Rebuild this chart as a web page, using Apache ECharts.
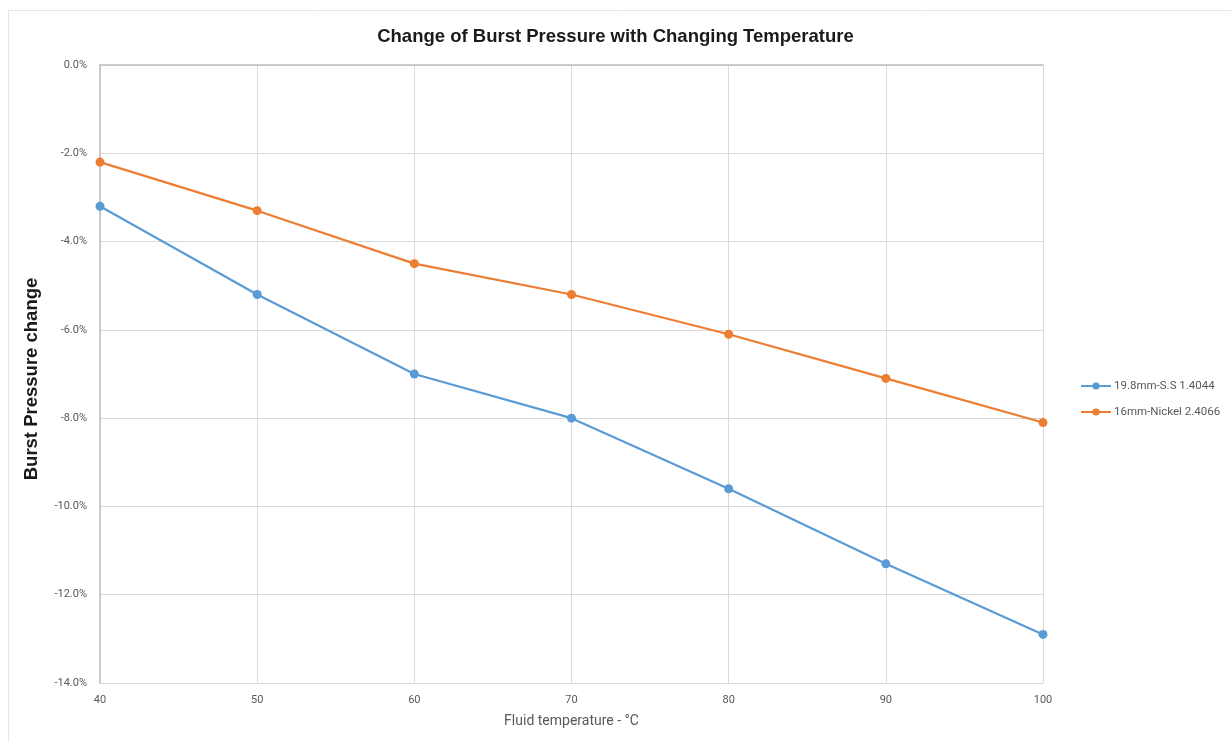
<!DOCTYPE html>
<html><head><meta charset="utf-8">
<script src="https://cdn.jsdelivr.net/npm/echarts@6/dist/echarts.min.js"></script>
<style>html,body{margin:0;padding:0;background:#fff}#c{width:1231px;height:742px}</style>
</head><body><div id="c"></div>
<script>
const temperatures = [40, 50, 60, 70, 80, 90, 100];
const ssValues = [-3.2, -5.2, -7.0, -8.0, -9.6, -11.3, -12.9];
const nickelValues = [-2.2, -3.3, -4.5, -5.2, -6.1, -7.1, -8.1];
const seriesNames = ['19.8mm-S.S 1.4044', '16mm-Nickel 2.4066'];
const colors = ['#5b9bd5', '#ed7d31'];

const chart = echarts.init(document.getElementById('c'));
const lbl = {color:'#595959', fontSize:11, fontFamily:'Roboto, "Noto Sans", sans-serif'};
chart.setOption({
  animation:false,
  graphic:[{type:'rect', shape:{x:8.5,y:10.5,width:1240,height:740}, style:{fill:'none', stroke:'#e6e6e6', lineWidth:1}}],
  title:{text:'Change of Burst Pressure with Changing Temperature', left:'center', top:22,
    textStyle:{fontFamily:'"Liberation Sans", Arial, sans-serif', fontWeight:'bold', fontSize:18.5, color:'#1a1a1a'}},
  grid:{left:100, right:188, top:65, bottom:59},
  legend:{orient:'vertical', left:1075, top:375, itemWidth:30, itemHeight:9, itemGap:14,
    data:seriesNames, textStyle:{color:'#595959', fontSize:11.5, padding:[0,0,0,-2], fontFamily:'Roboto, "Noto Sans", sans-serif'}},
  xAxis:[{type:'value', min:40, max:100, interval:10, position:'bottom',
    name:'Fluid temperature - °C', nameLocation:'middle', nameGap:31,
    nameTextStyle:{color:'#595959', fontSize:14, fontFamily:'Roboto, "Noto Sans", sans-serif'},
    axisLine:{show:false}, axisTick:{show:false},
    axisLabel:Object.assign({margin:12}, lbl),
    splitLine:{show:true, lineStyle:{color:'#d9d9d9', width:1}}},
   {type:'value', min:40, max:100, position:'top', axisLine:{show:true, lineStyle:{color:'#bfbfbf', width:1.5}},
    axisTick:{show:false}, axisLabel:{show:false}, splitLine:{show:false}}],
  yAxis:{type:'value', min:-14, max:0, interval:2,
    name:'Burst Pressure change', nameLocation:'middle', nameGap:59, nameRotate:90,
    nameTextStyle:{fontFamily:'"Liberation Sans", Arial, sans-serif', fontWeight:'bold', fontSize:18.5, color:'#1a1a1a', padding:[0,0,0,-10]},
    axisLine:{show:true, lineStyle:{color:'#bfbfbf', width:1.5}}, axisTick:{show:false},
    axisLabel:Object.assign({margin:13, formatter:v=>v.toFixed(1)+'%'}, lbl),
    splitLine:{lineStyle:{color:'#d9d9d9', width:1}}},
  series:[
    {name:seriesNames[0], type:'line', data:temperatures.map((t,i)=>[t, ssValues[i]]),
      symbol:'circle', symbolSize:9, itemStyle:{color:colors[0]}, lineStyle:{color:colors[0], width:2.2}},
    {name:seriesNames[1], type:'line', data:temperatures.map((t,i)=>[t, nickelValues[i]]),
      symbol:'circle', symbolSize:9, itemStyle:{color:colors[1]}, lineStyle:{color:colors[1], width:2.2}}
  ]
});
</script></body></html>
